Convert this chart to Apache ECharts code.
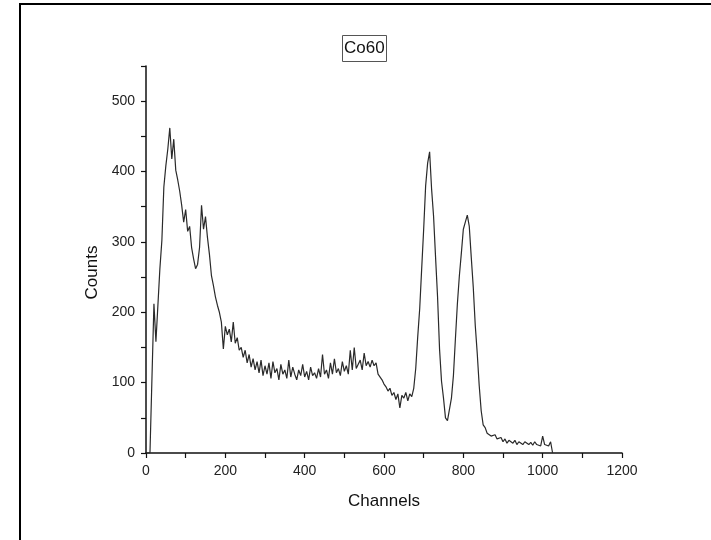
<!DOCTYPE html>
<html>
<head>
<meta charset="utf-8">
<script src="https://cdn.jsdelivr.net/npm/echarts@6/dist/echarts.min.js"></script>
<style>
html,body{margin:0;padding:0;background:#fff;}
#chart{width:711px;height:540px;}
</style>
</head>
<body>
<div id="chart"></div>
<script>
// Spectrum sampled every 5 channels, starting at channel 0
const channelStart = 0;
const channelStep = 5;
const counts = [
  0, 0, 0, 0, 212, 158, 210, 262, 302, 378,
  408, 432, 462, 418, 446, 402, 388, 372, 352, 328,
  346, 315, 322, 292, 276, 262, 268, 292, 352, 318,
  336, 306, 282, 252, 238, 222, 210, 200, 186, 148,
  180, 168, 176, 158, 186, 156, 164, 146, 150, 136,
  146, 128, 140, 122, 134, 118, 130, 114, 132, 110,
  124, 112, 128, 106, 130, 114, 120, 104, 126, 112,
  118, 106, 132, 108, 122, 112, 104, 118, 110, 126,
  108, 116, 104, 122, 110, 114, 106, 120, 108, 140,
  112, 118, 106, 128, 112, 134, 114, 120, 110, 130,
  116, 124, 112, 146, 118, 150, 120, 126, 132, 118,
  142, 124, 130, 122, 132, 124, 128, 112, 110, 104,
  98, 94, 88, 92, 82, 86, 76, 84, 64, 82,
  78, 86, 74, 84, 80, 92, 120, 165, 205, 262,
  318, 380, 412, 428, 375, 336, 278, 222, 148, 102,
  78, 50, 46, 62, 78, 110, 162, 212, 252, 284,
  318, 328, 338, 322, 278, 236, 182, 142, 96, 60,
  40, 36, 28, 30, 24, 22, 26, 20, 18, 22,
  16, 20, 14, 18, 16, 14, 18, 12, 16, 14,
  12, 16, 14, 12, 15, 11, 16, 12, 14, 10,
  24, 12, 14, 10, 16, 0
];
const xTicks = [0, 200, 400, 600, 800, 1000, 1200];
const yTicks = [0, 100, 200, 300, 400, 500];
const titleText = 'Co60';
const xName = 'Channels';
const yName = 'Counts';

const seriesData = counts.map((v, i) => [channelStart + i * channelStep, v]);

const chart = echarts.init(document.getElementById('chart'), null, {renderer: 'canvas'});
const font = '"Liberation Sans", Arial, sans-serif';
chart.setOption({
  animation: false,
  backgroundColor: '#fff',
  title: {
    text: titleText,
    left: 342,
    top: 35,
    padding: [5, 2, 5, 2],
    borderColor: '#555',
    borderWidth: 1,
    textStyle: {fontFamily: font, fontSize: 17, fontWeight: 'normal', color: '#111'}
  },
  grid: {left: 146, right: 89, top: 66, bottom: 87},
  xAxis: {
    type: 'value',
    min: 0, max: 1200, interval: 100,
    name: xName, nameLocation: 'middle', nameGap: 40,
    nameTextStyle: {fontFamily: font, fontSize: 17, color: '#111'},
    axisLine: {show: true, onZero: false, lineStyle: {color: '#111', width: 1.5}},
    axisTick: {show: true, inside: false, length: 5, lineStyle: {color: '#111', width: 1.2}},
    axisLabel: {
      margin: 11, fontFamily: font, fontSize: 14, color: '#222',
      formatter: v => xTicks.indexOf(v) >= 0 ? String(v) : ''
    },
    splitLine: {show: false}
  },
  yAxis: {
    type: 'value',
    min: 0, max: 550, interval: 50,
    name: yName, nameLocation: 'middle', nameGap: 45,
    nameTextStyle: {fontFamily: font, fontSize: 17, color: '#111', padding: [0, 26, 0, 0]},
    axisLine: {show: true, onZero: false, lineStyle: {color: '#111', width: 1.5}},
    axisTick: {show: true, inside: false, length: 5, lineStyle: {color: '#111', width: 1.2}},
    axisLabel: {
      margin: 11, fontFamily: font, fontSize: 14, color: '#222',
      formatter: v => yTicks.indexOf(v) >= 0 ? String(v) : ''
    },
    splitLine: {show: false}
  },
  series: [{
    type: 'line',
    data: seriesData,
    showSymbol: false,
    symbol: 'none',
    lineStyle: {color: '#2a2a2a', width: 1.2},
    clip: true
  }],
  graphic: [{
    type: 'polyline',
    silent: true,
    shape: {points: [[20, 540], [20, 4], [711, 4]]},
    style: {stroke: '#000', lineWidth: 2, fill: null}
  }]
});
</script>
</body>
</html>
